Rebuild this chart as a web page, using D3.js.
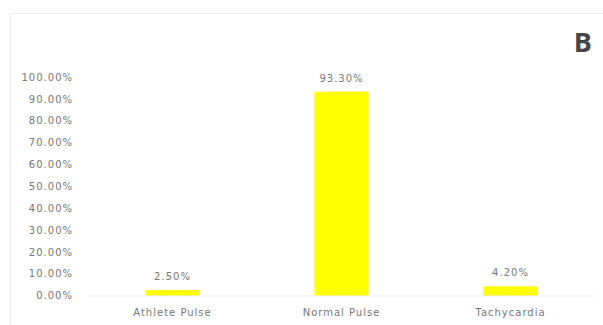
<!DOCTYPE html>
<html>
<head>
<meta charset="utf-8">
<script src="https://cdn.jsdelivr.net/npm/d3@7"></script>
<style>
  html, body { margin: 0; padding: 0; background: #fff; }
  svg { display: block; }
  .tick text, .val { font-family: 'DejaVu Sans', sans-serif; font-size: 10px; letter-spacing: 1px; fill: #777; }
</style>
</head>
<body>
<svg id="chart" width="603" height="325"></svg>
<script>
const categories = ['Athlete Pulse', 'Normal Pulse', 'Tachycardia']
const values = [2.5, 93.3, 4.2]
const yTicks = [0, 10, 20, 30, 40, 50, 60, 70, 80, 90, 100]
const panelLabel = 'B'

const svg = d3.select('#chart')
const pct = d3.format('.2%')

// chart area frame (only top and left edges show in the crop)
svg.append('path')
  .attr('d', 'M10.5,325 V13.5 H603')
  .attr('fill', 'none')
  .attr('stroke', '#ececec')

const x = d3.scaleBand()
  .domain(categories)
  .range([88, 595])
  .paddingInner(0.68)
  .paddingOuter(0.34)

const y = d3.scaleLinear()
  .domain([0, 100])
  .range([295.5, 77])

const yAxis = svg.append('g')
  .attr('transform', `translate(88,0)`)
  .call(d3.axisLeft(y).tickValues(yTicks).tickSize(0).tickPadding(15)
    .tickFormat((d) => pct(d / 100)))
yAxis.select('.domain').remove()

const bars = categories.map((c, i) => ({ cat: c, val: values[i] }))

svg.append('g')
  .selectAll('rect')
  .data(bars)
  .join('rect')
  .attr('x', (d) => x(d.cat))
  .attr('y', (d) => y(d.val))
  .attr('width', x.bandwidth())
  .attr('height', (d) => y(0) - y(d.val))
  .attr('fill', '#ffff00')

const xAxis = svg.append('g')
  .attr('transform', `translate(0,${y(0)})`)
  .call(d3.axisBottom(x).tickSize(0).tickPadding(13.5))
xAxis.select('.domain')
  .attr('stroke', '#c8c8c8')
  .attr('stroke-dasharray', '1,2')

svg.append('g')
  .selectAll('text')
  .data(bars)
  .join('text')
  .attr('class', 'val')
  .attr('x', (d) => x(d.cat) + x.bandwidth() / 2)
  .attr('y', (d) => y(d.val) - 10)
  .attr('text-anchor', 'middle')
  .text((d) => pct(d.val / 100))

svg.append('text')
  .attr('x', 592)
  .attr('y', 52)
  .attr('text-anchor', 'end')
  .attr('font-family', "'Open Sans', sans-serif")
  .attr('font-weight', 'bold')
  .attr('font-size', 27)
  .attr('fill', '#454545')
  .text(panelLabel)
</script>
</body>
</html>
